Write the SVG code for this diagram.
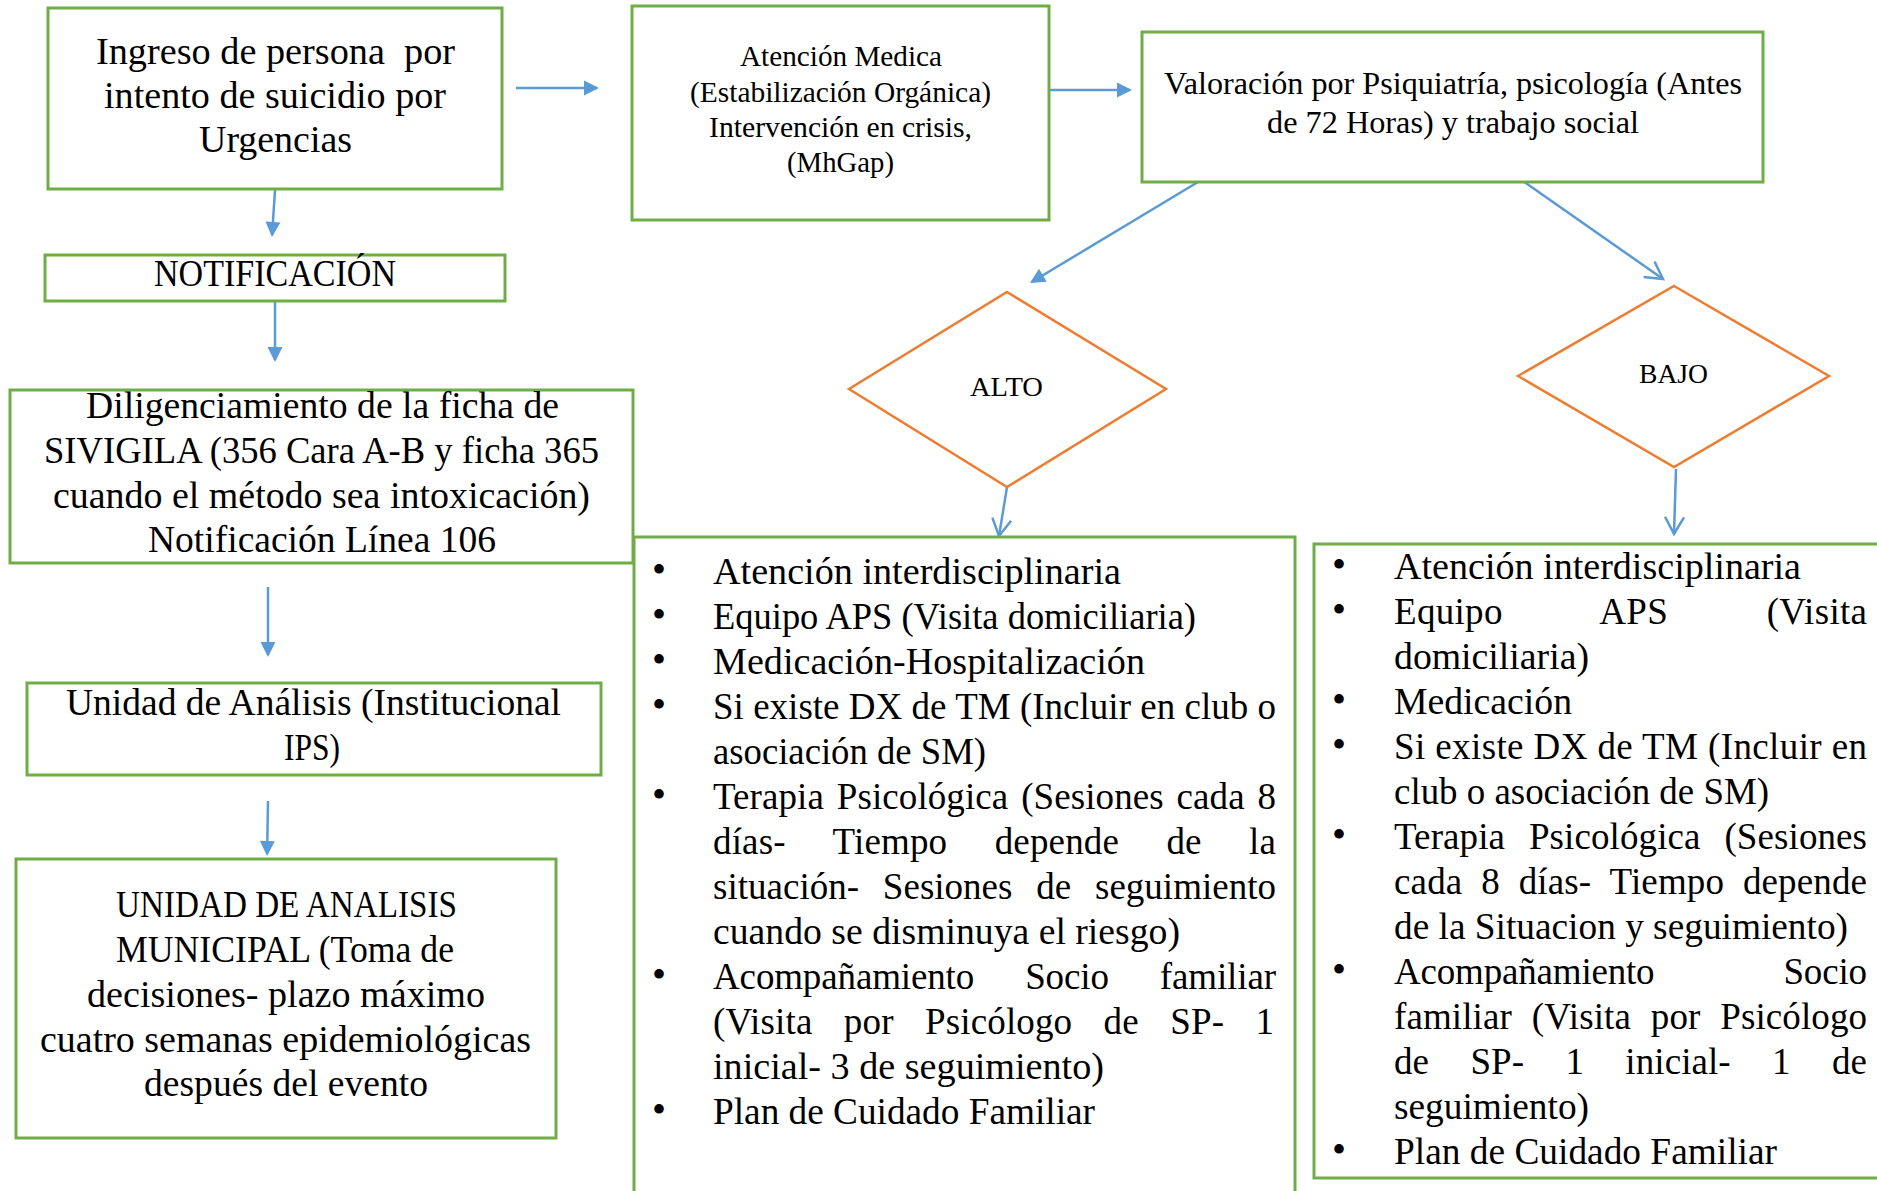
<svg xmlns="http://www.w3.org/2000/svg" width="1877" height="1191" viewBox="0 0 1877 1191">
<style>
  .box{fill:#fff;stroke:#70AD47;stroke-width:3}
  .dia{fill:#fff;stroke:#ED7D31;stroke-width:2.5}
  .con{fill:none;stroke:#5B9BD5;stroke-width:2.5}
  text{font-family:"Liberation Serif","Times New Roman",serif;fill:#000}
  .c{text-anchor:middle}
  .f38{font-size:38px}
  .f37{font-size:37px}
  .f32{font-size:32px}
  .f30{font-size:30px}
  .f28{font-size:28px}
  .bul{font-size:40px;text-anchor:middle}
</style>
<defs>
  <marker id="tri" markerUnits="userSpaceOnUse" markerWidth="15" markerHeight="15" viewBox="0 0 15 15" refX="13" refY="7.5" orient="auto" overflow="visible">
    <path d="M0,0 L15,7.5 L0,15 z" fill="#5B9BD5"/>
  </marker>
  <marker id="open" markerUnits="userSpaceOnUse" markerWidth="24" markerHeight="24" viewBox="-22 -12 24 24" refX="0" refY="0" orient="auto" overflow="visible">
    <path d="M-17,-9.5 L0,0 L-17,9.5" fill="none" stroke="#5B9BD5" stroke-width="2.5"/>
  </marker>
</defs>
<rect width="1877" height="1191" fill="#fff"/>

<g id="connectors">
  <line class="con" x1="516" y1="88" x2="597" y2="88" marker-end="url(#tri)"/>
  <line class="con" x1="1049" y1="90" x2="1130" y2="90" marker-end="url(#tri)"/>
  <line class="con" x1="1198" y1="182" x2="1031.7" y2="282" marker-end="url(#tri)"/>
  <line class="con" x1="1520" y1="179" x2="1663" y2="279" marker-end="url(#open)"/>
  <line class="con" x1="1007" y1="487" x2="999" y2="536" marker-end="url(#open)"/>
  <line class="con" x1="1676" y1="469" x2="1674" y2="534" marker-end="url(#open)"/>
  <line class="con" x1="275" y1="190" x2="272.1" y2="235" marker-end="url(#tri)"/>
  <line class="con" x1="275" y1="301" x2="275" y2="360" marker-end="url(#tri)"/>
  <line class="con" x1="268" y1="587" x2="268" y2="655" marker-end="url(#tri)"/>
  <line class="con" x1="268" y1="801" x2="267.1" y2="854" marker-end="url(#tri)"/>
</g>

<g id="n-ingreso">
  <rect class="box" x="48" y="8" width="454" height="181"/>
  <text class="c f38" x="275.5" y="64" textLength="359" lengthAdjust="spacingAndGlyphs" xml:space="preserve">Ingreso de persona  por</text>
  <text class="c f38" x="275" y="108" textLength="342" lengthAdjust="spacingAndGlyphs">intento de suicidio por</text>
  <text class="c f38" x="275.5" y="152" textLength="153" lengthAdjust="spacingAndGlyphs">Urgencias</text>
</g>

<g id="n-notificacion">
  <rect class="box" x="45" y="255" width="460" height="46"/>
  <text class="c f38" x="275" y="286" textLength="242" lengthAdjust="spacingAndGlyphs">NOTIFICACIÓN</text>
</g>

<g id="n-sivigila">
  <rect class="box" x="10" y="390" width="623" height="173"/>
  <text class="c f38" x="322.5" y="418" textLength="473" lengthAdjust="spacingAndGlyphs">Diligenciamiento de la ficha de</text>
  <text class="c f38" x="321.5" y="463" textLength="555" lengthAdjust="spacingAndGlyphs">SIVIGILA (356 Cara A-B y ficha 365</text>
  <text class="c f38" x="321.5" y="508" textLength="537" lengthAdjust="spacingAndGlyphs">cuando el método sea intoxicación)</text>
  <text class="c f38" x="322" y="552" textLength="348" lengthAdjust="spacingAndGlyphs">Notificación Línea 106</text>
</g>

<g id="n-unidad-ips">
  <rect class="box" x="27" y="683" width="574" height="92"/>
  <text class="c f38" x="313.5" y="715" textLength="495" lengthAdjust="spacingAndGlyphs">Unidad de Análisis (Institucional</text>
  <text class="c f38" x="312" y="760" textLength="56" lengthAdjust="spacingAndGlyphs">IPS)</text>
</g>

<g id="n-unidad-municipal">
  <rect class="box" x="16" y="859" width="540" height="279"/>
  <text class="c f38" x="286.5" y="917" textLength="341" lengthAdjust="spacingAndGlyphs">UNIDAD DE ANALISIS</text>
  <text class="c f38" x="285" y="962" textLength="338" lengthAdjust="spacingAndGlyphs">MUNICIPAL (Toma de</text>
  <text class="c f38" x="286" y="1007" textLength="398" lengthAdjust="spacingAndGlyphs">decisiones- plazo máximo</text>
  <text class="c f38" x="285.5" y="1052" textLength="491" lengthAdjust="spacingAndGlyphs">cuatro semanas epidemiológicas</text>
  <text class="c f38" x="286" y="1096" textLength="284" lengthAdjust="spacingAndGlyphs">después del evento</text>
</g>

<g id="n-atencion">
  <rect class="box" x="632" y="6" width="417" height="214"/>
  <text class="c f30" x="841" y="66" textLength="202" lengthAdjust="spacingAndGlyphs">Atención Medica</text>
  <text class="c f30" x="840.5" y="102" textLength="301" lengthAdjust="spacingAndGlyphs">(Estabilización Orgánica)</text>
  <text class="c f30" x="840.5" y="137" textLength="263" lengthAdjust="spacingAndGlyphs">Intervención en crisis,</text>
  <text class="c f30" x="840.5" y="172" textLength="107" lengthAdjust="spacingAndGlyphs">(MhGap)</text>
</g>

<g id="n-valoracion">
  <rect class="box" x="1142" y="32" width="621" height="150"/>
  <text class="c f32" x="1453" y="94" textLength="578" lengthAdjust="spacingAndGlyphs">Valoración por Psiquiatría, psicología (Antes</text>
  <text class="c f32" x="1453" y="133" textLength="372" lengthAdjust="spacingAndGlyphs">de 72 Horas) y trabajo social</text>
</g>

<g id="n-alto">
  <polygon class="dia" points="1007,292 1166,389 1007,487 849,389"/>
  <text class="c f28" x="1006.5" y="396" textLength="73" lengthAdjust="spacingAndGlyphs">ALTO</text>
</g>

<g id="n-bajo">
  <polygon class="dia" points="1674,286 1829,376 1674,467 1518,376"/>
  <text class="c f28" x="1673.5" y="383" textLength="69" lengthAdjust="spacingAndGlyphs">BAJO</text>
</g>

<g id="n-lista-alto">
  <rect class="box" x="634" y="537" width="661" height="700"/>
  <text class="bul" x="659" y="583">•</text>
  <text class="bul" x="659" y="628">•</text>
  <text class="bul" x="659" y="673">•</text>
  <text class="bul" x="659" y="718">•</text>
  <text class="bul" x="659" y="808">•</text>
  <text class="bul" x="659" y="988">•</text>
  <text class="bul" x="659" y="1123">•</text>
  <text class="f37" x="713" y="583.5" textLength="408" lengthAdjust="spacingAndGlyphs">Atención interdisciplinaria</text>
  <text class="f37" x="713" y="628.5" textLength="483" lengthAdjust="spacingAndGlyphs">Equipo APS (Visita domiciliaria)</text>
  <text class="f37" x="713" y="673.5" textLength="432" lengthAdjust="spacingAndGlyphs">Medicación-Hospitalización</text>
  <text class="f37" x="713" y="718.5" textLength="563" lengthAdjust="spacing">Si existe DX de TM (Incluir en club o</text>
  <text class="f37" x="713" y="763.5" textLength="273" lengthAdjust="spacingAndGlyphs">asociación de SM)</text>
  <text class="f37" x="713" y="808.5" textLength="563" lengthAdjust="spacing" word-spacing="3.5">Terapia Psicológica (Sesiones cada 8</text>
  <text class="f37" x="713" y="853.5" textLength="563" lengthAdjust="spacing" word-spacing="38">días- Tiempo depende de la</text>
  <text class="f37" x="713" y="898.5" textLength="563" lengthAdjust="spacing" word-spacing="14.5">situación- Sesiones de seguimiento</text>
  <text class="f37" x="713" y="943.5" textLength="467" lengthAdjust="spacingAndGlyphs">cuando se disminuya el riesgo)</text>
  <text class="f37" x="713" y="988.5" textLength="563" lengthAdjust="spacing" word-spacing="42">Acompañamiento Socio familiar</text>
  <text class="f37" x="713" y="1033.5" textLength="561" lengthAdjust="spacing" word-spacing="22">(Visita por Psicólogo de SP- 1</text>
  <text class="f37" x="713" y="1078.5" textLength="391" lengthAdjust="spacingAndGlyphs">inicial- 3 de seguimiento)</text>
  <text class="f37" x="713" y="1123.5" textLength="382" lengthAdjust="spacingAndGlyphs">Plan de Cuidado Familiar</text>
</g>

<g id="n-lista-bajo">
  <rect class="box" x="1314" y="544" width="600" height="634"/>
  <text class="bul" x="1339" y="578">•</text>
  <text class="bul" x="1339" y="623">•</text>
  <text class="bul" x="1339" y="713">•</text>
  <text class="bul" x="1339" y="758">•</text>
  <text class="bul" x="1339" y="848">•</text>
  <text class="bul" x="1339" y="983">•</text>
  <text class="bul" x="1339" y="1163">•</text>
  <text class="f37" x="1394" y="578.5" textLength="407" lengthAdjust="spacingAndGlyphs">Atención interdisciplinaria</text>
  <text class="f37" x="1394" y="623.5" textLength="473" lengthAdjust="spacing" word-spacing="89">Equipo APS (Visita</text>
  <text class="f37" x="1394" y="668.5" textLength="195" lengthAdjust="spacingAndGlyphs">domiciliaria)</text>
  <text class="f37" x="1394" y="713.5" textLength="178" lengthAdjust="spacingAndGlyphs">Medicación</text>
  <text class="f37" x="1394" y="758.5" textLength="473" lengthAdjust="spacing">Si existe DX de TM (Incluir en</text>
  <text class="f37" x="1394" y="803.5" textLength="375" lengthAdjust="spacingAndGlyphs">club o asociación de SM)</text>
  <text class="f37" x="1394" y="848.5" textLength="473" lengthAdjust="spacing" word-spacing="14.5">Terapia Psicológica (Sesiones</text>
  <text class="f37" x="1394" y="893.5" textLength="473" lengthAdjust="spacing" word-spacing="9.5">cada 8 días- Tiempo depende</text>
  <text class="f37" x="1394" y="938.5" textLength="454" lengthAdjust="spacingAndGlyphs">de la Situacion y seguimiento)</text>
  <text class="f37" x="1394" y="983.5" textLength="473" lengthAdjust="spacing" word-spacing="120">Acompañamiento Socio</text>
  <text class="f37" x="1394" y="1028.5" textLength="473" lengthAdjust="spacing" word-spacing="10.5">familiar (Visita por Psicólogo</text>
  <text class="f37" x="1394" y="1073.5" textLength="473" lengthAdjust="spacing" word-spacing="32">de SP- 1 inicial- 1 de</text>
  <text class="f37" x="1394" y="1118.5" textLength="195" lengthAdjust="spacingAndGlyphs">seguimiento)</text>
  <text class="f37" x="1394" y="1163.5" textLength="383" lengthAdjust="spacingAndGlyphs">Plan de Cuidado Familiar</text>
</g>
</svg>
